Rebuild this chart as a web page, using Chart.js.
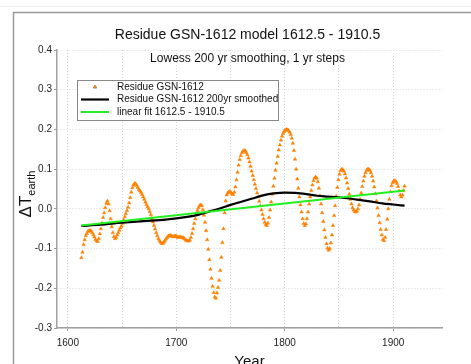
<!DOCTYPE html>
<html><head><meta charset="utf-8">
<script src="https://cdn.jsdelivr.net/npm/chart.js@4"></script>
<style>html,body{margin:0;padding:0;background:#fff;overflow:hidden}</style>
</head><body>
<canvas id="c" width="471" height="364"></canvas>
<script>
const titleText = 'Residue GSN-1612 model 1612.5 - 1910.5';
const subtitleText = 'Lowess 200 yr smoothing, 1 yr steps';
const xTitle = 'Year';
const yTitleMain = 'ΔT';
const yTitleSub = 'earth';
const seriesNames = ['Residue GSN-1612', 'Residue GSN-1612 200yr smoothed', 'linear fit 1612.5 - 1910.5'];

// Residue, 1 yr steps starting 1612.5
const residueStartYear = 1612.5;
const residueValues = [
 -0.123,-0.109,-0.090,-0.078,-0.068,-0.062,-0.057,-0.055,-0.054,-0.056,
 -0.060,-0.065,-0.071,-0.077,-0.081,-0.082,-0.075,-0.063,-0.050,-0.036,
 -0.022,-0.010,0.003,0.014,0.020,0.012,-0.005,-0.025,-0.045,-0.060,
 -0.070,-0.075,-0.072,-0.066,-0.060,-0.054,-0.048,-0.043,-0.036,-0.028,
 -0.020,-0.012,-0.004,0.004,0.015,0.028,0.042,0.053,0.060,0.064,
 0.063,0.059,0.054,0.049,0.045,0.041,0.036,0.030,0.024,0.017,
 0.011,0.005,0.000,-0.007,-0.015,-0.024,-0.033,-0.042,-0.051,-0.060,
 -0.068,-0.075,-0.080,-0.084,-0.087,-0.087,-0.084,-0.080,-0.076,-0.072,
 -0.069,-0.067,-0.067,-0.068,-0.070,-0.070,-0.069,-0.068,-0.070,-0.072,
 -0.071,-0.070,-0.072,-0.073,-0.073,-0.075,-0.078,-0.080,-0.081,-0.081,
 -0.079,-0.072,-0.062,-0.050,-0.037,-0.025,-0.013,-0.004,0.003,0.008,
 0.010,0.008,-0.002,-0.016,-0.034,-0.055,-0.078,-0.102,-0.128,-0.152,
 -0.175,-0.195,-0.211,-0.222,-0.225,-0.212,-0.198,-0.180,-0.155,-0.122,
 -0.085,-0.050,-0.010,0.020,0.035,0.040,0.043,0.044,0.041,0.037,
 0.036,0.042,0.055,0.073,0.092,0.110,0.124,0.134,0.141,0.145,
 0.147,0.146,0.142,0.136,0.128,0.118,0.107,0.095,0.084,0.073,
 0.062,0.051,0.040,0.030,0.019,0.008,-0.003,-0.014,-0.025,-0.034,
 -0.040,-0.042,-0.036,-0.022,-0.003,0.017,0.037,0.057,0.077,0.097,
 0.115,0.132,0.148,0.161,0.173,0.183,0.190,0.195,0.198,0.200,
 0.199,0.197,0.193,0.187,0.178,0.165,0.147,0.125,0.100,0.075,
 0.052,0.030,0.010,-0.008,-0.025,-0.037,-0.042,-0.038,-0.025,-0.008,
 0.012,0.030,0.046,0.060,0.071,0.078,0.080,0.077,0.068,0.052,
 0.033,0.012,-0.010,-0.032,-0.053,-0.072,-0.088,-0.099,-0.104,-0.100,
 -0.086,-0.066,-0.042,-0.017,0.008,0.032,0.054,0.073,0.087,0.096,
 0.100,0.099,0.095,0.088,0.078,0.065,0.051,0.037,0.024,0.012,
 0.003,-0.003,-0.007,-0.008,-0.006,0.000,0.010,0.024,0.040,0.056,
 0.070,0.082,0.091,0.097,0.100,0.100,0.097,0.091,0.082,0.070,
 0.055,0.038,0.020,0.002,-0.017,-0.035,-0.052,-0.066,-0.077,-0.080,
 -0.072,-0.052,-0.026,0.000,0.024,0.043,0.058,0.066,0.070,0.071,
 0.069,0.064,0.056,0.045,0.035,0.030,0.035,0.046,0.057
];

// 200 yr smoothed
const smoothYears  = [1612.5,1630,1650,1670,1690,1710,1720,1730,1740,1750,1760,1770,1780,1790,1800,1810,1820,1830,1840,1850,1860,1870,1880,1890,1900,1910.5];
const smoothValues = [-0.043,-0.040,-0.035,-0.031,-0.027,-0.020,-0.015,-0.007,0.001,0.010,0.018,0.026,0.034,0.039,0.041,0.040,0.037,0.033,0.031,0.029,0.026,0.022,0.018,0.014,0.011,0.008];

// linear fit
const fitYears  = [1612.5, 1910.5];
const fitValues = [-0.042, 0.046];

const xTickValues = [1600,1650,1700,1750,1800,1850,1900];
const xTickLabels = ['1600','','1700','','1800','','1900'];
const yTickValues = [-0.3,-0.2,-0.1,0.0,0.1,0.2,0.3,0.4];
const yTickLabels = ['-0.3','-0.2','-0.1','0.0','0.1','0.2','0.3','0.4'];

const FONT = '"Liberation Sans", Arial, Helvetica, sans-serif';
const ORANGE = '#ff8000';
const GREEN = '#22ee22';

const residueData = residueValues.map((v, i) => ({x: residueStartYear + i, y: v}));
const smoothData = smoothYears.map((x, i) => ({x, y: smoothValues[i]}));
const fitData = fitYears.map((x, i) => ({x, y: fitValues[i]}));

const decor = {
  id: 'decor',
  beforeDraw(chart) {
    const ctx = chart.ctx;
    ctx.save();
    ctx.fillStyle = '#fff';
    ctx.fillRect(0, 0, chart.width, chart.height);
    ctx.strokeStyle = '#eeeeee';
    ctx.lineWidth = 1;
    ctx.beginPath(); ctx.moveTo(0, 6.5); ctx.lineTo(chart.width, 6.5); ctx.stroke();
    ctx.strokeStyle = '#9a9a9a';
    ctx.lineWidth = 1.5;
    ctx.beginPath();
    ctx.moveTo(13.5, chart.height); ctx.lineTo(13.5, 12.5); ctx.lineTo(chart.width, 12.5);
    ctx.stroke();
    ctx.restore();
  },
  afterDraw(chart) {
    const ctx = chart.ctx;
    const a = chart.chartArea;
    const cx = (a.left + a.right) / 2 - 2;
    ctx.save();
    ctx.fillStyle = '#111';
    ctx.textAlign = 'center';
    ctx.textBaseline = 'alphabetic';
    ctx.font = '14px ' + FONT;
    ctx.fillText(titleText, cx, 38.5);
    ctx.font = '12px ' + FONT;
    ctx.fillText(subtitleText, cx, 62);
    // x title
    ctx.font = '15px ' + FONT;
    ctx.fillText(xTitle, (a.left + a.right) / 2, 366);
    // y title rotated with subscript
    ctx.translate(31, 194);
    ctx.rotate(-Math.PI / 2);
    ctx.font = '17px ' + FONT;
    const w1 = ctx.measureText(yTitleMain).width;
    ctx.font = '11px ' + FONT;
    const w2 = ctx.measureText(yTitleSub).width;
    const start = -(w1 + w2) / 2;
    ctx.textAlign = 'left';
    ctx.font = '17px ' + FONT;
    ctx.fillText(yTitleMain, start, 0);
    ctx.font = '11px ' + FONT;
    ctx.fillText(yTitleSub, start + w1, 3.5);
    ctx.restore();

    // legend
    ctx.save();
    const lx = 77.5, ly = 80.5, lw = 201, lh = 40;
    ctx.fillStyle = '#fff';
    ctx.fillRect(lx, ly, lw, lh);
    ctx.strokeStyle = '#888';
    ctx.lineWidth = 1;
    ctx.strokeRect(lx, ly, lw, lh);
    const rows = [87, 99.5, 112];
    const ds = chart.data.datasets;
    // row 1 marker
    const res = ds.find(d => d.label === seriesNames[0]);
    Chart.helpers.drawPoint(ctx, {pointStyle: 'triangle', radius: 2, borderWidth: 0.5}, 95, rows[0]);
    ctx.fillStyle = res.backgroundColor;
    ctx.fill();
    // row 2,3 lines
    const sm = ds.find(d => d.label === seriesNames[1]);
    const lf = ds.find(d => d.label === seriesNames[2]);
    [[sm, rows[1]], [lf, rows[2]]].forEach(([d, y]) => {
      ctx.strokeStyle = d.borderColor;
      ctx.lineWidth = d.borderWidth;
      ctx.beginPath(); ctx.moveTo(81, y); ctx.lineTo(109, y); ctx.stroke();
    });
    ctx.fillStyle = '#111';
    ctx.font = '10px ' + FONT;
    ctx.textAlign = 'left';
    ctx.textBaseline = 'middle';
    rows.forEach((y, i) => ctx.fillText(seriesNames[i], 117, y));
    ctx.restore();
  }
};

new Chart(document.getElementById('c'), {
  type: 'scatter',
  data: {
    datasets: [
      { label: seriesNames[2], type: 'line', data: fitData, borderColor: GREEN, borderWidth: 2,
        pointRadius: 0, fill: false, order: 0 },
      { label: seriesNames[1], type: 'line', data: smoothData, borderColor: '#000', borderWidth: 2.2,
        pointRadius: 0, fill: false, cubicInterpolationMode: 'monotone', order: 1 },
      { label: seriesNames[0], data: residueData, pointStyle: 'triangle', pointRadius: 2,
        backgroundColor: ORANGE, borderColor: ORANGE, borderWidth: 0.5, showLine: false, order: 2 }
    ]
  },
  options: {
    responsive: false,
    devicePixelRatio: 1,
    animation: false,
    layout: { padding: { left: 0, top: 50, right: 29, bottom: 0 } },
    plugins: { legend: { display: false }, title: { display: false }, tooltip: { enabled: false } },
    scales: {
      x: {
        type: 'linear', min: 1590, max: 1945,
        afterFit(s) { s.height = 36; },
        afterBuildTicks(s) { s.ticks = xTickValues.map(v => ({value: v})); },
        ticks: {
          callback: (v) => { const i = xTickValues.indexOf(v); return i >= 0 ? xTickLabels[i] : ''; },
          font: { size: 10, family: FONT }, color: '#222', padding: 6, maxRotation: 0, autoSkip: false
        },
        grid: { color: '#d6d6d6', lineWidth: 1, drawTicks: true, tickLength: 3,
          tickColor: (c) => (c.tick && c.tick.value % 100 === 0) ? '#999' : 'rgba(0,0,0,0)' },
        border: { display: true, color: '#a0a0a0', width: 1.5, dash: [1, 2] }
      },
      y: {
        type: 'linear', min: -0.3, max: 0.4,
        afterFit(s) { s.width = 57; },
        afterBuildTicks(s) { s.ticks = yTickValues.map(v => ({value: v})); },
        ticks: {
          callback: (v) => { const i = yTickValues.findIndex(t => Math.abs(t - v) < 1e-9); return i >= 0 ? yTickLabels[i] : ''; },
          font: { size: 10, family: FONT }, color: '#222', padding: 2
        },
        grid: { color: '#d6d6d6', lineWidth: 1, drawTicks: true, tickLength: 3, tickColor: '#999' },
        border: { display: true, color: '#a0a0a0', width: 1.5, dash: [1, 2] }
      }
    }
  },
  plugins: [decor]
});
</script>
</body></html>
